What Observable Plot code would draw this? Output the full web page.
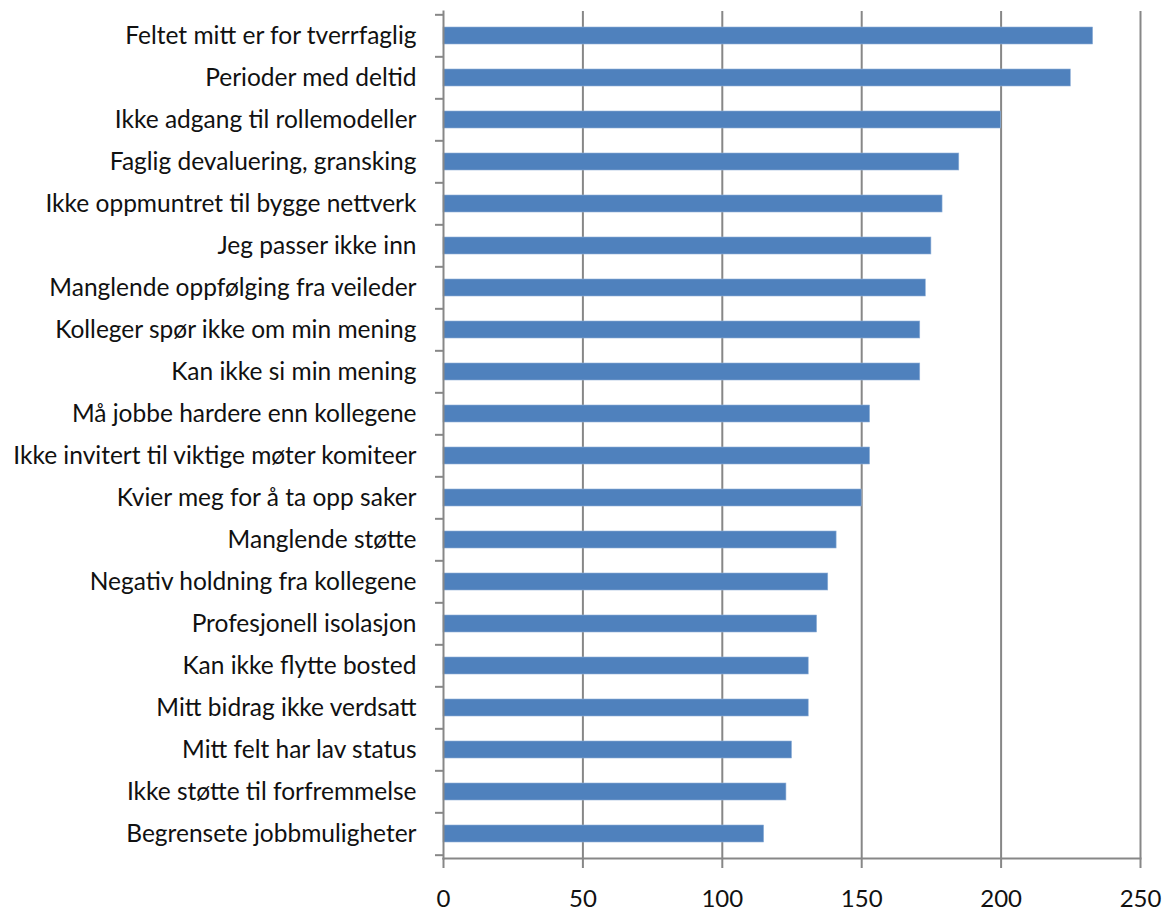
<!DOCTYPE html>
<html><head><meta charset="utf-8">
<script src="https://cdn.jsdelivr.net/npm/d3@7"></script>
<script src="https://cdn.jsdelivr.net/npm/@observablehq/plot@0.6"></script>
<style>body{margin:0;background:#fff;} svg{display:block;}</style>
</head><body><div id="chart"></div>
<script>
const categories = [
  "Feltet mitt er for tverrfaglig",
  "Perioder med deltid",
  "Ikke adgang til rollemodeller",
  "Faglig devaluering, gransking",
  "Ikke oppmuntret til bygge nettverk",
  "Jeg passer ikke inn",
  "Manglende oppfølging fra veileder",
  "Kolleger spør ikke om min mening",
  "Kan ikke si min mening",
  "Må jobbe hardere enn kollegene",
  "Ikke invitert til viktige møter komiteer",
  "Kvier meg for å ta opp saker",
  "Manglende støtte",
  "Negativ holdning fra kollegene",
  "Profesjonell isolasjon",
  "Kan ikke flytte bosted",
  "Mitt bidrag ikke verdsatt",
  "Mitt felt har lav status",
  "Ikke støtte til forfremmelse",
  "Begrensete jobbmuligheter"
];
const values = [233, 225, 200, 185, 179, 175, 173, 171, 171, 153, 153, 150, 141, 138, 134, 131, 131, 125, 123, 115];
const xTicks = [0, 50, 100, 150, 200, 250];

const data = categories.map((c, i) => ({category: c, value: values[i]}));

const W = 1165, H = 911, mT = 11, mB = 53, mL = 443, mR = 25;
const step = (H - mT - mB) / categories.length;
const grey = "#878787";
const font = "Lato, sans-serif";

const chart = Plot.plot({
  width: W, height: H,
  marginTop: mT, marginBottom: mB, marginLeft: mL, marginRight: mR,
  style: {fontFamily: font, fontSize: "24px", color: "#000", background: "#fff"},
  x: {domain: [0, 250]},
  y: {domain: categories, paddingInner: 0.6, paddingOuter: 0.3, align: 0.5},
  marks: [
    Plot.gridX(xTicks.slice(1), {stroke: grey, strokeOpacity: 1, strokeWidth: 2}),
    Plot.barX(data, {x: "value", y: "category", fill: "#4F81BD", stroke: "#8fb0d8", strokeWidth: 0.6}),
    Plot.frame({anchor: "left", stroke: grey, strokeWidth: 2}),
    Plot.frame({anchor: "bottom", stroke: grey, strokeWidth: 2}),
    Plot.axisY({tickSize: 0, tickPadding: 27, fontSize: 24.5, fill: "#111", label: null}),
    Plot.axisY({tickSize: 8, text: null, dy: -step / 2, stroke: grey, strokeWidth: 2, strokeOpacity: 1, label: null}),
    Plot.axisY([categories[categories.length - 1]], {tickSize: 8, text: null, dy: step / 2, stroke: grey, strokeWidth: 2, strokeOpacity: 1, label: null}),
    Plot.axisX({ticks: xTicks, tickSize: 10, tickPadding: 21, fontSize: 24, fill: "#111", stroke: grey, strokeWidth: 2, strokeOpacity: 1, label: null})
  ]
});
document.getElementById("chart").appendChild(chart);
</script>
</body></html>
